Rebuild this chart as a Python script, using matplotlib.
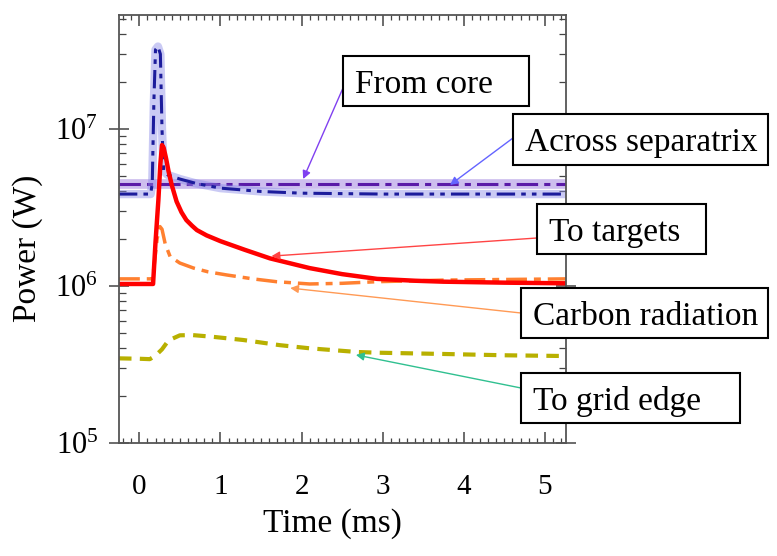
"""Power balance traces after a pellet/ELM event, log-scale."""

import math

import matplotlib
matplotlib.use("Agg")
import matplotlib.pyplot as plt
from matplotlib.patches import Rectangle
from matplotlib.ticker import FixedLocator, FuncFormatter, LogLocator, MultipleLocator, NullFormatter

plt.rcParams["font.family"] = ["Liberation Serif", "DejaVu Serif"]
plt.rcParams["mathtext.fontset"] = "custom"
plt.rcParams["mathtext.rm"] = "Liberation Serif"

# --- data (time in ms, power in W) ---
core_t = [-0.25, 1.0, 2.0, 3.0, 4.0, 5.26]
core_p = [4.45e6, 4.45e6, 4.45e6, 4.45e6, 4.45e6, 4.45e6]

sep_t = [-0.25, 0.14, 0.16, 0.18, 0.20, 0.23, 0.26, 0.28, 0.30, 0.35, 0.5, 0.7, 1.0, 1.5, 2.0, 3.0, 4.0, 5.26]
sep_p = [3.85e6, 3.85e6, 4.5e6, 1.5e7, 3.2e7, 3.35e7, 3.0e7, 1.0e7, 5.4e6, 5.1e6, 4.8e6, 4.5e6,
         4.2e6, 4.0e6, 3.9e6, 3.85e6, 3.85e6, 3.85e6]

tgt_t = [-0.25, 0.17, 0.20, 0.235, 0.26, 0.28, 0.30, 0.33, 0.36, 0.40, 0.46, 0.52, 0.58, 0.65,
         0.71, 0.83, 1.0, 1.3, 1.61, 2.1, 2.5, 2.93, 3.4, 3.75, 4.5, 5.26]
tgt_p = [1.03e6, 1.03e6, 1.9e6, 3.5e6, 6.0e6, 7.9e6, 7.6e6, 6.5e6, 5.4e6, 4.4e6, 3.45e6, 2.95e6,
         2.63e6, 2.42e6, 2.27e6, 2.1e6, 1.93e6, 1.7e6, 1.5e6, 1.3e6, 1.19e6, 1.11e6, 1.08e6,
         1.065e6, 1.05e6, 1.04e6]

carb_t = [-0.25, 0.16, 0.18, 0.22, 0.255, 0.28, 0.32, 0.38, 0.5, 0.67, 0.85, 1.08, 1.4, 1.69,
          2.1, 2.5, 2.93, 3.75, 4.5, 5.26]
carb_p = [1.11e6, 1.11e6, 1.3e6, 2.0e6, 2.39e6, 2.3e6, 1.85e6, 1.54e6, 1.4e6, 1.30e6, 1.23e6,
          1.175e6, 1.11e6, 1.065e6, 1.03e6, 1.04e6, 1.065e6, 1.09e6, 1.10e6, 1.11e6]

grid_t = [-0.25, 0.0, 0.13, 0.2, 0.28, 0.36, 0.5, 0.65, 0.9, 1.28, 1.73, 2.1, 2.68, 2.93, 3.75, 4.5, 5.26]
grid_p = [3.46e5, 3.44e5, 3.42e5, 3.6e5, 3.95e5, 4.5e5, 4.85e5, 4.87e5, 4.75e5, 4.53e5, 4.2e5,
          4.01e5, 3.8e5, 3.76e5, 3.69e5, 3.62e5, 3.58e5]

labels = ["From core", "Across separatrix", "To targets", "Carbon radiation", "To grid edge"]

W, H = 777, 556


def fx(x):
    return x / W


def fy(y):
    # image y (top-down) -> figure fraction
    return 1 - y / H


fig = plt.figure(figsize=(W / 100, H / 100), dpi=100)
ax = fig.add_axes([fx(119), fy(443), fx(566) - fx(119), fy(15) - fy(443)])

# translucent bands under the dashed core / separatrix traces
ax.plot(core_t, core_p, color="#a58ae0", lw=7, alpha=0.55, solid_capstyle="butt")
ax.plot(core_t, core_p, color="#5a1aa8", lw=2.2, dashes=(7, 2, 2, 2))
ax.plot(sep_t, sep_p, color="#8a8ae8", lw=6, alpha=0.45, solid_capstyle="butt")
ax.plot(sep_t, sep_p, color="#1c1c9c", lw=2.2, dashes=(6, 2, 1.5, 2, 1.5, 2))
ax.plot(grid_t, grid_p, color="#b8b000", lw=3, dashes=(3, 2))
ax.plot(carb_t, carb_p, color="#ff8030", lw=2.5, dashes=(6, 2, 2, 2))
ax.plot(tgt_t, tgt_p, color="#ff0000", lw=3.2)

ax.set_yscale("log")
ax.set_xlim(-0.25, 5.26)
ax.set_ylim(1e5, 5.32e7)

ax.xaxis.set_major_locator(MultipleLocator(1))
ax.xaxis.set_minor_locator(MultipleLocator(0.1))
ax.yaxis.set_major_locator(FixedLocator([1e5, 1e6, 1e7]))
ax.yaxis.set_minor_locator(LogLocator(base=10, subs=range(2, 10)))
ax.yaxis.set_minor_formatter(NullFormatter())
ax.yaxis.set_major_formatter(FuncFormatter(lambda v, pos: r"$\mathregular{10^{%d}}$" % round(math.log10(v))))

ax.tick_params(axis="both", which="both", direction="in", top=True, right=True, color="#444444")
ax.tick_params(axis="x", which="major", length=8, width=1.1, labelsize=21, pad=22)
ax.tick_params(axis="x", which="minor", length=3.5, width=0.9)
ax.tick_params(axis="y", which="major", direction="inout", length=14, width=1.1, labelsize=22, pad=8)
ax.tick_params(axis="y", which="minor", length=5, width=0.9)
for sp in ax.spines.values():
    sp.set_color("#555555")
    sp.set_linewidth(1.3)

ax.set_xlabel("Time (ms)", fontsize=24)
ax.set_ylabel("Power (W)", fontsize=24)
ax.xaxis.set_label_coords(0.477, -0.152)
ax.yaxis.set_label_coords(-0.17, 0.456)

# callout boxes: (left, top, right, bottom) in image pixels
boxes = [(343, 56, 529, 106), (513, 114, 768, 165), (537, 204, 706, 254),
         (521, 288, 768, 338), (521, 373, 740, 423)]
tails = [(343, 88), (513, 138), (537, 238), (521, 313), (521, 388)]
tips = [(2.02, 4.8e6), (3.83, 4.4e6), (1.63, 1.55e6), (1.86, 0.97e6), (2.67, 3.64e5)]
arrow_colors = ["#8040f0", "#6464ff", "#ff4444", "#ff9a55", "#30c090"]

for label, (x0, y0, x1, y1), (tx, ty), tip, c in zip(labels, boxes, tails, tips, arrow_colors):
    ax.annotate("", xy=tip, xycoords="data", xytext=(fx(tx), fy(ty)), textcoords="figure fraction",
                arrowprops=dict(arrowstyle="-|>", color=c, lw=1.0, shrinkA=0, shrinkB=0,
                                mutation_scale=12))
    fig.add_artist(Rectangle((fx(x0), fy(y1)), fx(x1) - fx(x0), fy(y0) - fy(y1),
                             transform=fig.transFigure, facecolor="white",
                             edgecolor="black", lw=1.5, zorder=5))
    fig.text(fx(x0 + 12), fy((y0 + y1) / 2), label, fontsize=24, ha="left", va="center_baseline",
             zorder=6)

fig.savefig("out.png", dpi=100)
